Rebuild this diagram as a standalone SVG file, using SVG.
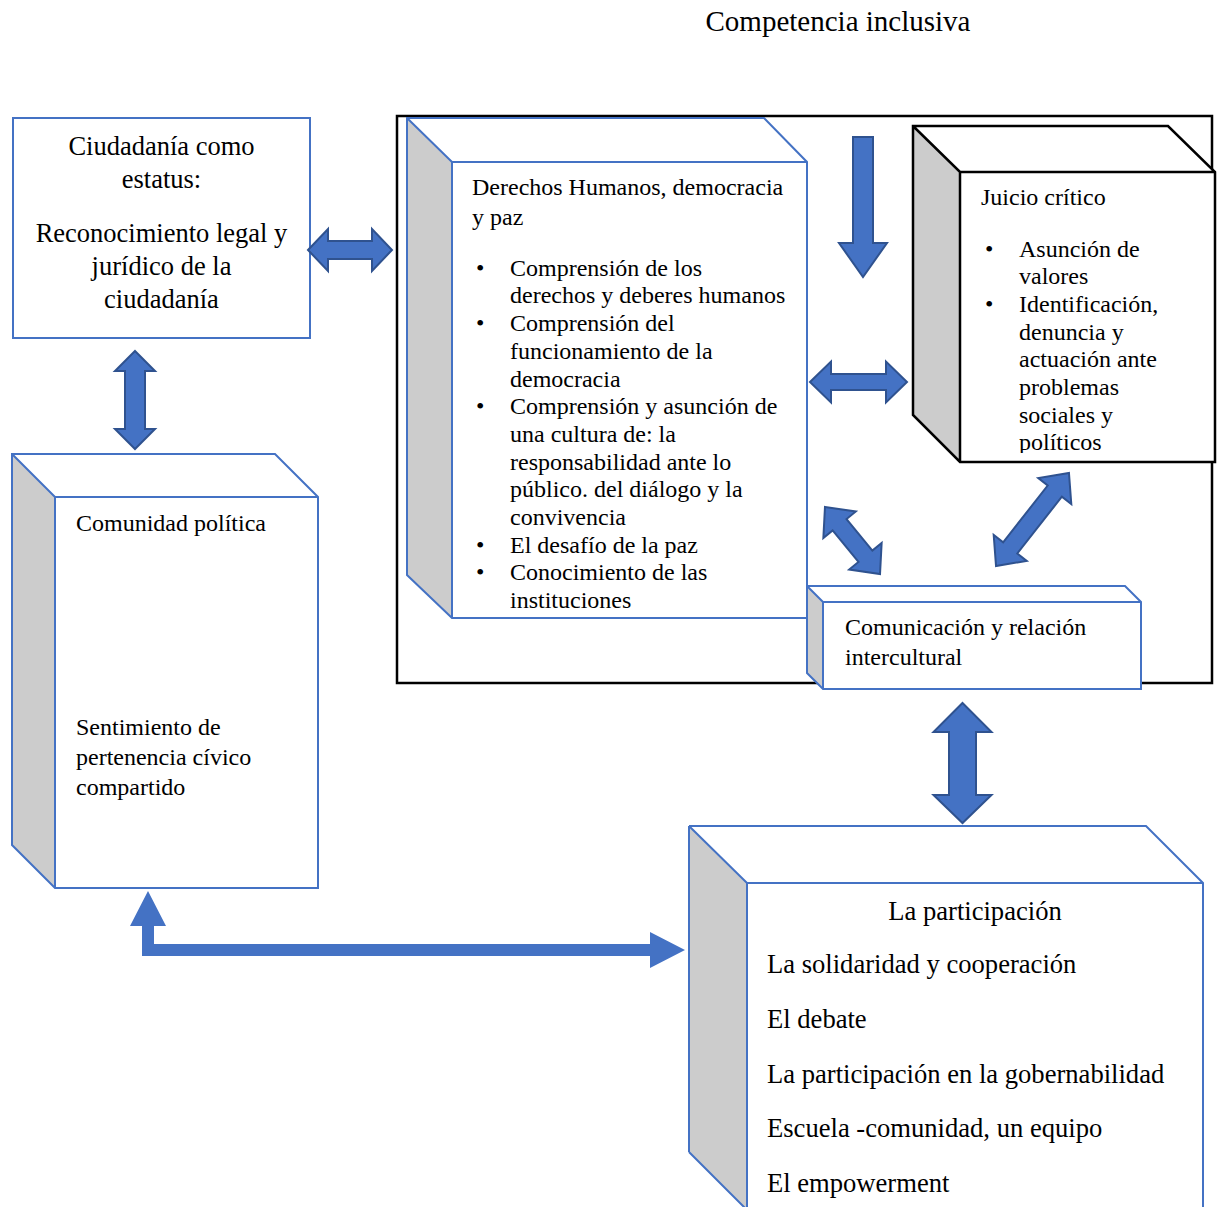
<svg xmlns="http://www.w3.org/2000/svg" width="1224" height="1207" viewBox="0 0 1224 1207">
<style>
text{font-family:"Liberation Serif","Times New Roman",serif;fill:#000;}
.t24{font-size:24px;}
.t26{font-size:26.5px;}
.blue{fill:#fff;stroke:#4472c4;stroke-width:2;}
.side{fill:#cccccc;}
.arr{fill:#4472c4;stroke:#2f528f;stroke-width:2;stroke-linejoin:miter;}
.conn{fill:#4472c4;stroke:none;}
</style>
<defs>
<clipPath id="jclip"><rect x="960" y="172" width="255" height="281"/></clipPath>
</defs>
<rect width="1224" height="1207" fill="#fff"/>
<g id="title"><text x="838" y="31" font-size="29" text-anchor="middle">Competencia inclusiva</text></g>
<g id="frame"><rect x="397" y="116" width="815" height="567" fill="none" stroke="#000" stroke-width="2.5"/></g>

<g id="ciudadania">
<rect class="blue" x="13" y="118" width="297" height="220"/>
<text class="t26" text-anchor="middle" x="161.5" y="155">Ciudadanía como</text>
<text class="t26" text-anchor="middle" x="161.5" y="188">estatus:</text>
<text class="t26" text-anchor="middle" x="161.5" y="242">Reconocimiento legal y</text>
<text class="t26" text-anchor="middle" x="161.5" y="275">jurídico de la</text>
<text class="t26" text-anchor="middle" x="161.5" y="308">ciudadanía</text>
</g>

<g id="derechos">
<path fill="#fff" d="M407,118 L764,118 L807,162 L807,618 L452,618 L407,575 Z"/>
<path class="side" d="M407,118 L452,162 L452,618 L407,575 Z"/>
<path fill="none" stroke="#4472c4" stroke-width="2" d="M407,118 L764,118 L807,162 L807,618 L452,618 L407,575 Z M407,118 L452,162 L807,162 M452,162 L452,618"/>
<text class="t24" x="472" y="195">Derechos Humanos, democracia</text>
<text class="t24" x="472" y="225">y paz</text>
<g class="t24">
<text x="476" y="276">•</text><text x="510" y="276">Comprensión de los</text>
<text x="510" y="303">derechos y deberes humanos</text>
<text x="476" y="331">•</text><text x="510" y="331">Comprensión del</text>
<text x="510" y="359">funcionamiento de la</text>
<text x="510" y="387">democracia</text>
<text x="476" y="414">•</text><text x="510" y="414">Comprensión y asunción de</text>
<text x="510" y="442">una cultura de: la</text>
<text x="510" y="470">responsabilidad ante lo</text>
<text x="510" y="497">público. del diálogo y la</text>
<text x="510" y="525">convivencia</text>
<text x="476" y="553">•</text><text x="510" y="553">El desafío de la paz</text>
<text x="476" y="580">•</text><text x="510" y="580">Conocimiento de las</text>
<text x="510" y="608">instituciones</text>
</g>
</g>

<g id="juicio">
<path fill="#fff" d="M913,126 L1168,126 L1215,172 L1215,462 L960,462 L913,415 Z"/>
<path class="side" d="M913,126 L960,172 L960,462 L913,415 Z"/>
<path fill="none" stroke="#000" stroke-width="2.5" d="M913,126 L1168,126 L1215,172 L1215,462 L960,462 L913,415 Z M913,126 L960,172 L1215,172 M960,172 L960,462"/>
<text class="t24" x="981" y="205">Juicio crítico</text>
<g class="t24" clip-path="url(#jclip)">
<text x="985" y="257">•</text><text x="1019" y="257">Asunción de</text>
<text x="1019" y="284">valores</text>
<text x="985" y="312">•</text><text x="1019" y="312">Identificación,</text>
<text x="1019" y="340">denuncia y</text>
<text x="1019" y="367">actuación ante</text>
<text x="1019" y="395">problemas</text>
<text x="1019" y="423">sociales y</text>
<text x="1019" y="450">políticos</text>
</g>
</g>

<g id="comunicacion">
<path fill="#fff" d="M807,586 L1125,586 L1141,602 L1141,689 L823,689 L807,673 Z"/>
<path class="side" d="M807,586 L823,602 L823,689 L807,673 Z"/>
<path fill="none" stroke="#4472c4" stroke-width="2" d="M807,586 L1125,586 L1141,602 L1141,689 L823,689 L807,673 Z M807,586 L823,602 L1141,602 M823,602 L823,689"/>
<text class="t24" x="845" y="635">Comunicación y relación</text>
<text class="t24" x="845" y="665">intercultural</text>
</g>

<g id="comunidad">
<path fill="#fff" d="M12,454 L275,454 L318,497 L318,888 L55,888 L12,845 Z"/>
<path class="side" d="M12,454 L55,497 L55,888 L12,845 Z"/>
<path fill="none" stroke="#4472c4" stroke-width="2" d="M12,454 L275,454 L318,497 L318,888 L55,888 L12,845 Z M12,454 L55,497 L318,497 M55,497 L55,888"/>
<text class="t24" x="76" y="531">Comunidad política</text>
<text class="t24" x="76" y="735">Sentimiento de</text>
<text class="t24" x="76" y="765">pertenencia cívico</text>
<text class="t24" x="76" y="795">compartido</text>
</g>

<g id="participacion">
<path fill="#fff" d="M689,826 L1146,826 L1203,883 L1203,1210 L747,1210 L689,1152 Z"/>
<path class="side" d="M689,826 L747,883 L747,1210 L689,1152 Z"/>
<path fill="none" stroke="#4472c4" stroke-width="2" d="M689,826 L1146,826 L1203,883 L1203,1210 M747,1210 L689,1152 Z M689,826 L689,1152 M689,826 L747,883 L1203,883 M747,883 L747,1210"/>
<text x="975" y="920" font-size="26.6" text-anchor="middle">La participación</text>
<text x="767" y="973" font-size="26.6">La solidaridad y cooperación</text>
<text x="767" y="1028" font-size="26.6">El debate</text>
<text x="767" y="1083" font-size="26.6">La participación en la gobernabilidad</text>
<text x="767" y="1137" font-size="26.6">Escuela -comunidad, un equipo</text>
<text x="767" y="1192" font-size="26.6">El empowerment</text>
</g>

<g id="connectors">
<path class="arr" d="M308,250 L328,229 L328,241 L372,241 L372,229 L392,250 L372,271 L372,259 L328,259 L328,271 Z"/>
<path class="arr" d="M135,351 L155,371 L145,371 L145,429 L155,429 L135,449 L115,429 L125,429 L125,371 L115,371 Z"/>
<path class="arr" d="M853,137 L873,137 L873,243 L887,243 L863,277 L839,243 L853,243 Z"/>
<path class="arr" d="M810,382 L831,361.5 L831,374 L886,374 L886,361.5 L907,382 L886,402.5 L886,390 L831,390 L831,402.5 Z"/>
<path class="arr" transform="translate(852.5,540.5) rotate(50.6)" d="M-43.35,0 L-20.35,-21 L-20.35,-9 L20.35,-9 L20.35,-21 L43.35,0 L20.35,21 L20.35,9 L-20.35,9 L-20.35,21 Z"/>
<path class="arr" transform="translate(1032.5,519.5) rotate(128.1)" d="M-59.1,0 L-36.1,-21 L-36.1,-9 L36.1,-9 L36.1,-21 L59.1,0 L36.1,21 L36.1,9 L-36.1,9 L-36.1,21 Z"/>
<path class="arr" d="M962.5,703 L991.5,732 L976,732 L976,795 L991.5,795 L962.5,823 L933.5,795 L949,795 L949,732 L933.5,732 Z"/>
<path class="conn" d="M148,891 L166,926 L154,926 L154,944 L650,944 L650,932 L685,950 L650,968 L650,956 L142,956 L142,926 L130,926 Z"/>
</g>
</svg>
